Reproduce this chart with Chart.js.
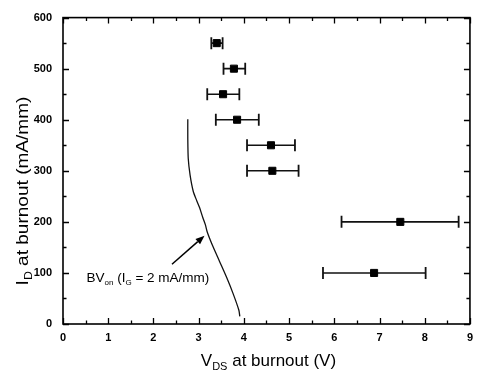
<!DOCTYPE html>
<html>
<head>
<meta charset="utf-8">
<script src="https://cdn.jsdelivr.net/npm/chart.js@4.4.1/dist/chart.umd.min.js"></script>
<style>
  html, body { margin: 0; padding: 0; background: #fff; }
  #wrap { width: 480px; height: 376px; position: relative; }
</style>
</head>
<body>
<div id="wrap"><canvas id="c" width="480" height="376"></canvas></div>
<script>
// ---- Data ----
const burnoutCurrent = [550, 500, 450, 400, 350, 300, 200, 100];      // I_D (mA/mm)
const burnoutVds     = [3.40, 3.78, 3.54, 3.85, 4.60, 4.63, 7.46, 6.88]; // mean V_DS (V)
const vdsLow         = [3.28, 3.55, 3.19, 3.38, 4.07, 4.07, 6.16, 5.75];
const vdsHigh        = [3.53, 4.03, 3.90, 4.33, 5.13, 5.21, 8.75, 8.02];

// BV_on curve (I_G = 2 mA/mm)
const bvonVds = [2.76, 2.76, 2.77, 2.81, 2.88, 2.96, 3.02, 3.09, 3.15, 3.19, 3.30, 3.46, 3.62, 3.76, 3.89, 3.91];
const bvonId  = [401, 363, 324, 292, 260, 241, 228, 209, 194, 180, 155, 123, 91, 60, 27, 15];

// Axis ticks
const xTickValues = [0, 1, 2, 3, 4, 5, 6, 7, 8, 9];
const yTickValues = [0, 100, 200, 300, 400, 500, 600];

// Annotation (data coordinates)
const annotationText = [{t: 'BV'}, {t: 'on', sub: true}, {t: ' (I'}, {t: 'G', sub: true}, {t: ' = 2 mA/mm)'}];
const annotationAt = {x: 0.52, y: 90};
const arrowFrom = {x: 2.41, y: 117};
const arrowTo = {x: 3.13, y: 173};

const xTitle = [{t: 'V'}, {t: 'DS', sub: true}, {t: ' at burnout (V)'}];
const yTitle = [{t: 'I'}, {t: 'D', sub: true}, {t: ' at burnout (mA/mm)'}];

// ---- Build datasets ----
const curve = bvonVds.map((x, i) => ({x, y: bvonId[i]}));
const markers = burnoutVds.map((x, i) => ({x, y: burnoutCurrent[i]}));
const errorSets = burnoutCurrent.map((y, i) => ({
  type: 'line',
  data: [{x: vdsLow[i], y}, {x: vdsHigh[i], y}],
  borderColor: '#111',
  borderWidth: 1.6,
  pointStyle: 'line',
  rotation: 90,
  pointRadius: 6,
  pointBorderWidth: 1.8,
  pointBorderColor: '#111',
  pointHoverRadius: 6,
  order: 2,
  fill: false
}));

const FONT = "'Liberation Sans', Arial, sans-serif";

function richWidth(ctx, parts, size) {
  let w = 0;
  for (const p of parts) {
    ctx.font = (p.sub ? Math.round(size * 0.62) : size) + 'px ' + FONT;
    w += ctx.measureText(p.t).width;
  }
  return w;
}
function drawRich(ctx, parts, x, y, size) {
  let cx = x;
  ctx.textBaseline = 'middle';
  ctx.textAlign = 'left';
  for (const p of parts) {
    const s = p.sub ? Math.round(size * 0.62) : size;
    ctx.font = s + 'px ' + FONT;
    ctx.fillText(p.t, cx, p.sub ? y + size * 0.36 : y);
    cx += ctx.measureText(p.t).width;
  }
}

const framePlugin = {
  id: 'frame',
  afterDraw(chart) {
    const {ctx, chartArea: a, scales: {x, y}} = chart;
    ctx.save();
    ctx.strokeStyle = '#000';
    ctx.fillStyle = '#000';
    // frame
    ctx.lineWidth = 1.6;
    ctx.strokeRect(a.left, a.top, a.right - a.left, a.bottom - a.top);
    // inward ticks
    ctx.lineWidth = 1.3;
    for (let v = x.min; v <= x.max + 1e-9; v += 0.5) {
      const px = Math.round(x.getPixelForValue(v)) + 0.5;
      const len = Math.abs(v - Math.round(v)) < 1e-9 ? 6 : 3.5;
      ctx.beginPath();
      ctx.moveTo(px, a.bottom); ctx.lineTo(px, a.bottom - len);
      ctx.moveTo(px, a.top); ctx.lineTo(px, a.top + len);
      ctx.stroke();
    }
    for (let v = y.min; v <= y.max + 1e-9; v += 50) {
      const py = Math.round(y.getPixelForValue(v)) + 0.5;
      const len = v % 100 === 0 ? 6 : 3.5;
      ctx.beginPath();
      ctx.moveTo(a.left, py); ctx.lineTo(a.left + len, py);
      ctx.moveTo(a.right, py); ctx.lineTo(a.right - len, py);
      ctx.stroke();
    }
    // x title
    const ts = 17;
    const xw = richWidth(ctx, xTitle, ts);
    drawRich(ctx, xTitle, (a.left + a.right) / 2 - xw / 2 + 2, 361, ts);
    // y title (slightly stretched along its length, as in the reference)
    const yw = richWidth(ctx, yTitle, ts);
    ctx.save();
    ctx.translate(23, 191);
    ctx.rotate(-Math.PI / 2);
    ctx.scale(1.12, 1);
    drawRich(ctx, yTitle, -yw / 2, 0, ts);
    ctx.restore();
    // annotation text
    drawRich(ctx, annotationText, x.getPixelForValue(annotationAt.x), y.getPixelForValue(annotationAt.y), 13.5);
    // arrow
    const x0 = x.getPixelForValue(arrowFrom.x), y0 = y.getPixelForValue(arrowFrom.y);
    const x1 = x.getPixelForValue(arrowTo.x), y1 = y.getPixelForValue(arrowTo.y);
    const ang = Math.atan2(y1 - y0, x1 - x0);
    const hl = 9, hw = 3.5;
    const bx = x1 - hl * Math.cos(ang), by = y1 - hl * Math.sin(ang);
    ctx.lineWidth = 1.5;
    ctx.beginPath(); ctx.moveTo(x0, y0); ctx.lineTo(bx, by); ctx.stroke();
    ctx.beginPath();
    ctx.moveTo(x1, y1);
    ctx.lineTo(bx + hw * Math.sin(ang), by - hw * Math.cos(ang));
    ctx.lineTo(bx - hw * Math.sin(ang), by + hw * Math.cos(ang));
    ctx.closePath(); ctx.fill();
    ctx.restore();
  }
};

new Chart(document.getElementById('c'), {
  type: 'scatter',
  data: {
    datasets: [
      {
        type: 'line',
        data: curve,
        borderColor: '#111',
        borderWidth: 1.3,
        pointRadius: 0,
        tension: 0.25,
        fill: false,
        order: 3
      },
      ...errorSets,
      {
        type: 'scatter',
        data: markers,
        pointStyle: 'rect',
        pointRadius: 5,
        backgroundColor: '#000',
        borderColor: '#000',
        borderWidth: 1,
        order: 1
      }
    ]
  },
  options: {
    responsive: false,
    animation: false,
    events: [],
    layout: {padding: {top: 12, right: 4, left: 0, bottom: 0}},
    plugins: {legend: {display: false}, tooltip: {enabled: false}},
    scales: {
      x: {
        type: 'linear', min: 0, max: 9,
        afterBuildTicks: s => { s.ticks = xTickValues.map(v => ({value: v})); },
        afterFit: s => { s.height = 52; },
        grid: {display: false, drawTicks: false},
        border: {display: false},
        ticks: {color: '#000', padding: 7, maxRotation: 0, font: {family: FONT, size: 11, weight: 'bold'}}
      },
      y: {
        type: 'linear', min: 0, max: 600,
        afterBuildTicks: s => { s.ticks = yTickValues.map(v => ({value: v})); },
        afterFit: s => { s.width = 63; },
        grid: {display: false, drawTicks: false},
        border: {display: false},
        ticks: {color: '#000', padding: 11, font: {family: FONT, size: 11, weight: 'bold'}}
      }
    }
  },
  plugins: [framePlugin]
});
</script>
</body>
</html>
